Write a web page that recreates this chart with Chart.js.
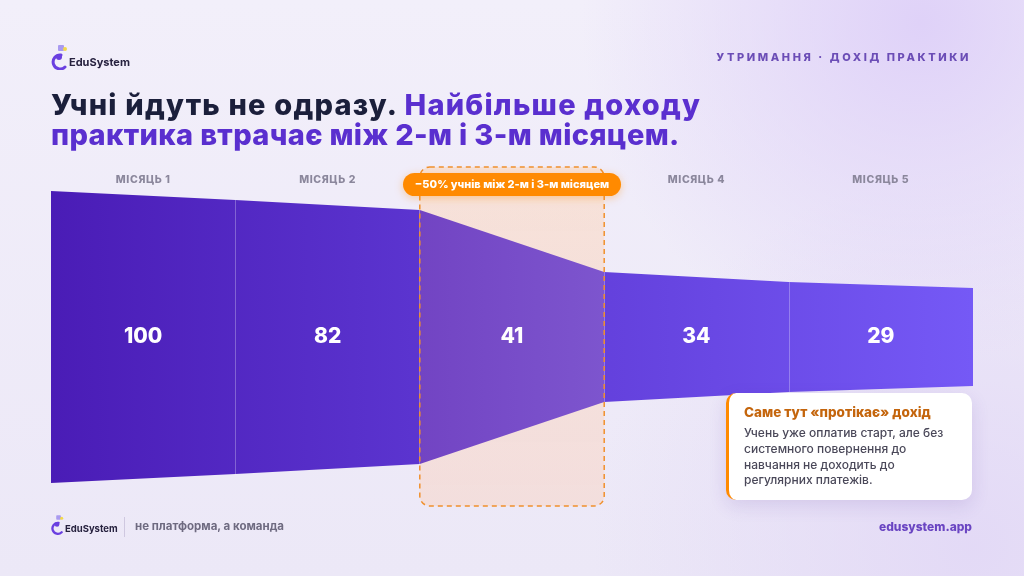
<!DOCTYPE html>
<html lang="uk">
<head>
<meta charset="utf-8">
<script src="https://cdn.jsdelivr.net/npm/chart.js@4.4.1/dist/chart.umd.min.js"></script>
<style>
  html, body { margin: 0; padding: 0; }
  body {
    width: 1024px; height: 576px; overflow: hidden; position: relative;
    font-family: Inter, "Noto Sans", sans-serif;
    background:
      radial-gradient(circle at 90% 4%, rgba(222,208,248,0.95) 0, rgba(222,208,248,0) 340px),
      radial-gradient(circle at 95% 95%, rgba(226,216,246,0.9) 0, rgba(226,216,246,0) 380px),
      linear-gradient(180deg, #f2effa, #ece8f7);
  }
  #wrap { position: absolute; left: 0; top: 0; width: 1024px; height: 576px; }
  .abs { position: absolute; white-space: nowrap; }
  .logo { display: flex; align-items: center; gap: 1px; font-weight: 700; color: #27223f; }
  .tag { right: 53px; top: 50px; font-size: 11px; font-weight: 800; letter-spacing: 2.6px; color: #6b4db6; }
  .title { left: 51px; top: 90px; font-size: 29px; font-weight: 800; line-height: 30px; color: #1b1f3b; }
  .title .l1 { letter-spacing: 1.2px; }
  .title .l2 { letter-spacing: 0.35px; }
  .title .p { color: #5a2fcf; }
  .card {
    position: absolute; left: 726px; top: 393px; width: 228px; height: 107px;
    background: #fff; border-radius: 10px; border-left: 3px solid #ff8a00;
    box-shadow: 0 6px 18px rgba(90, 60, 160, 0.14); padding: 0 0 0 15px;
  }
  .card h4 { margin: 11px 0 5px; font-size: 13.5px; font-weight: 800; color: #c4650c; }
  .card p { margin: 0; font-size: 12px; line-height: 15.8px; color: #4a4859; font-weight: 500; }
  .sep { left: 124px; top: 517px; width: 1px; height: 20px; background: #cfc8e0; }
  .slogan { left: 135px; top: 519px; font-size: 11.5px; font-weight: 700; color: #6e6a80; }
  .site { right: 52px; top: 519px; font-size: 12px; font-weight: 800; color: #6a45c2; }
</style>
</head>
<body>
<div id="wrap"><canvas id="data" width="1024" height="576"></canvas></div>

<div class="abs logo" style="left:50px; top:44px; font-size:11px;">
  <svg width="18" height="26" viewBox="0 0 18 26">
    <path d="M11 11 A7 7 0 1 0 15 23" stroke="#6a3fe0" stroke-width="3" fill="none" stroke-linecap="round"/>
    <circle cx="9" cy="13" r="3" fill="#6a3fe0"/>
    <rect x="8" y="1" width="6" height="6" rx="1" fill="#a99af0"/>
    <circle cx="15" cy="5" r="2" fill="#f2d84a"/>
  </svg>
  <span style="margin-top:10px">EduSystem</span>
</div>
<div class="abs tag">УТРИМАННЯ · ДОХІД ПРАКТИКИ</div>
<div class="abs title"><span class="l1">Учні йдуть не одразу. <span class="p">Найбільше доходу</span></span><br><span class="l2 p">практика втрачає між 2-м і 3-м місяцем.</span></div>

<div class="card">
  <h4>Саме тут «протікає» дохід</h4>
  <p>Учень уже оплатив старт, але без<br>системного повернення до<br>навчання не доходить до<br>регулярних платежів.</p>
</div>

<div class="abs logo" style="left:50px; top:514px; font-size:9.5px;">
  <svg width="14" height="21" viewBox="0 0 18 26">
    <path d="M11 11 A7 7 0 1 0 15 23" stroke="#6a3fe0" stroke-width="3" fill="none" stroke-linecap="round"/>
    <circle cx="9" cy="13" r="3" fill="#6a3fe0"/>
    <rect x="8" y="1" width="6" height="6" rx="1" fill="#a99af0"/>
    <circle cx="15" cy="5" r="2" fill="#f2d84a"/>
  </svg>
  <span style="margin-top:8px">EduSystem</span>
</div>
<div class="abs sep"></div>
<div class="abs slogan">не платформа, а команда</div>
<div class="abs site">edusystem.app</div>

<script>
// chart values
var months = ['МІСЯЦЬ 1', 'МІСЯЦЬ 2', 'МІСЯЦЬ 3', 'МІСЯЦЬ 4', 'МІСЯЦЬ 5'];
var students = [100, 82, 41, 34, 29];
var edges = [0, 1, 2, 3, 4, 5];              // segment borders on the x scale
var funnel_half = [146, 137, 127, 65, 55, 49]; // half height of the funnel at each border
var drop_segment = 2;                         // month 3, between month 2 and 3
var drop_label = '−50% учнів між 2-м і 3-м місяцем';
var divider_edges = [1, 4];

var chart;

function grad(chart, from, to, x0, x1) {
    var ctx = chart.ctx;
    var g = ctx.createLinearGradient(x0, 0, x1, 0);
    g.addColorStop(0, from);
    g.addColorStop(1, to);
    return g;
}

function round_rect(ctx, x, y, w, h, r) {
    ctx.beginPath();
    ctx.roundRect(x, y, w, h, r);
}

var funnel_decor = {
    id: 'funnel_decor',
    beforeDatasetsDraw(chart) {
        var ctx = chart.ctx, xs = chart.scales.x, area = chart.chartArea;
        var x0 = xs.getPixelForValue(edges[drop_segment]);
        var x1 = xs.getPixelForValue(edges[drop_segment + 1]);
        ctx.save();
        var g = ctx.createLinearGradient(0, area.top - 24, 0, area.bottom + 23);
        g.addColorStop(0, 'rgba(255,212,176,0.45)');
        g.addColorStop(1, 'rgba(252,208,185,0.42)');
        ctx.fillStyle = g;
        round_rect(ctx, x0, area.top - 24, x1 - x0, area.bottom - area.top + 47, 10);
        ctx.fill();
        ctx.restore();
    },
    afterDatasetsDraw(chart) {
        var ctx = chart.ctx, xs = chart.scales.x, ys = chart.scales.y, area = chart.chartArea;
        ctx.save();

        // thin dividers inside the funnel
        ctx.strokeStyle = 'rgba(255,255,255,0.28)';
        ctx.lineWidth = 1;
        divider_edges.forEach(function (i) {
            var x = Math.round(xs.getPixelForValue(edges[i])) + 0.5;
            ctx.beginPath();
            ctx.moveTo(x, ys.getPixelForValue(funnel_half[i]));
            ctx.lineTo(x, ys.getPixelForValue(-funnel_half[i]));
            ctx.stroke();
        });

        // values
        ctx.fillStyle = '#ffffff';
        ctx.font = '800 21px Inter';
        ctx.textAlign = 'center';
        ctx.textBaseline = 'middle';
        students.forEach(function (v, i) {
            ctx.fillText(String(v), xs.getPixelForValue(i + 0.5), ys.getPixelForValue(0));
        });

        // month labels
        ctx.fillStyle = '#8b879c';
        ctx.font = '800 10.5px Inter';
        ctx.letterSpacing = '0.6px';
        months.forEach(function (m, i) {
            ctx.fillText(m, xs.getPixelForValue(i + 0.5), area.top - 11);
        });
        ctx.letterSpacing = '0px';

        // dashed box round the drop
        var x0 = xs.getPixelForValue(edges[drop_segment]);
        var x1 = xs.getPixelForValue(edges[drop_segment + 1]);
        ctx.strokeStyle = '#f0902c';
        ctx.lineWidth = 1.5;
        ctx.setLineDash([5, 4]);
        round_rect(ctx, x0, area.top - 24, x1 - x0, area.bottom - area.top + 47, 10);
        ctx.stroke();
        ctx.setLineDash([]);

        // pill
        var cx = (x0 + x1) / 2, pw = 218, ph = 23, py = area.top - 18;
        ctx.shadowColor = 'rgba(255,138,0,0.35)';
        ctx.shadowBlur = 8;
        ctx.shadowOffsetY = 2;
        ctx.fillStyle = '#ff8a00';
        round_rect(ctx, cx - pw / 2, py, pw, ph, ph / 2);
        ctx.fill();
        ctx.shadowColor = 'transparent';
        ctx.fillStyle = '#ffffff';
        ctx.font = '800 11px Inter';
        ctx.fillText(drop_label, cx, py + ph / 2 + 0.5);
        ctx.restore();
    }
};

var config = {
    type: 'line',
    data: {
        datasets: [
            {
                label: 'top',
                data: edges.map(function (x, i) { return {x: x, y: funnel_half[i]}; }),
                fill: '+1',
                borderWidth: 0,
                pointRadius: 0,
                tension: 0,
                backgroundColor: function (c) {
                    var a = c.chart.chartArea;
                    if (!a) return '#5a30cc';
                    return grad(c.chart, '#4a1cb6', '#7559f6', a.left, a.right);
                },
                segment: {
                    backgroundColor: function (c) {
                        if (c.p0DataIndex !== drop_segment) return undefined;
                        var xs = c.chart.scales.x;
                        return grad(c.chart, '#7244c3', '#7d55ce',
                            xs.getPixelForValue(edges[drop_segment]), xs.getPixelForValue(edges[drop_segment + 1]));
                    }
                }
            },
            {
                label: 'bottom',
                data: edges.map(function (x, i) { return {x: x, y: -funnel_half[i]}; }),
                fill: false,
                borderWidth: 0,
                pointRadius: 0,
                tension: 0
            }
        ]
    },
    options: {
        responsive: false,
        animation: false,
        layout: { padding: { left: 51, right: 51, top: 191, bottom: 93 } },
        plugins: { legend: { display: false }, tooltip: { enabled: false } },
        scales: {
            x: { type: 'linear', display: false, min: 0, max: 5 },
            y: { display: false, min: -146, max: 146 }
        }
    },
    plugins: [funnel_decor]
};

(function () {
    chart = new Chart(document.getElementById('data'), config);
})();
</script>
</body>
</html>
